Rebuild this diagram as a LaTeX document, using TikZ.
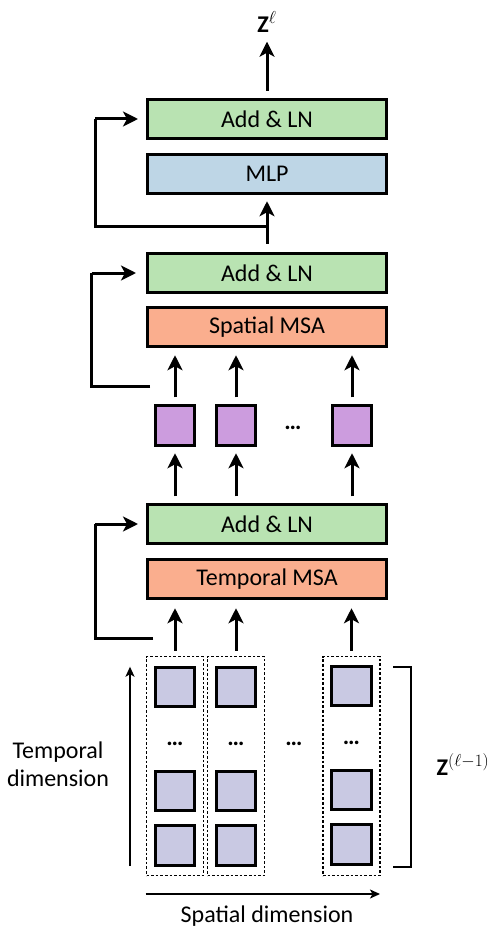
\documentclass[tikz,border=0pt]{standalone}
\usepackage{fontspec}
\setmainfont{Carlito}
\usepackage{tikz}
\usetikzlibrary{arrows,arrows.meta}
\definecolor{addgreen}{RGB}{185,227,178}
\definecolor{mlpblue}{RGB}{190,214,230}
\definecolor{msared}{RGB}{250,174,142}
\definecolor{tokpurple}{RGB}{204,156,222}
\definecolor{toklav}{RGB}{201,201,227}
\tikzstyle{blk} = [draw, line width=3pt, minimum width=239pt, minimum height=39.5pt, inner sep=0pt, font=\fontsize{24}{28}\selectfont]
\tikzstyle{tok} = [draw, line width=3pt, minimum size=39.5pt, inner sep=0pt]
\tikzstyle{col} = [draw, line width=1.4pt, dash pattern=on 2.6pt off 2pt, minimum width=57pt, minimum height=219pt, inner sep=0pt]
\tikzstyle{lbl} = [font=\fontsize{24}{28}\selectfont, inner sep=0pt]
\tikzstyle{es} = [-{Stealth[length=15pt,width=15pt,inset=4pt]}, line width=3pt]
\tikzstyle{ts} = [-{Stealth[length=10pt,width=9pt,inset=2.5pt]}, line width=1.6pt]

\begin{document}
\begin{tikzpicture}[yscale=-1]
	\useasboundingbox (0pt,0pt) rectangle (498pt,933pt);
	\node[blk, fill=addgreen] (addtop) at (267pt,119pt) {Add \& LN};
	\node[blk, fill=mlpblue] (mlp) at (267pt,174pt) {MLP};
	\node[blk, fill=addgreen] (addsp) at (267pt,273pt) {Add \& LN};
	\node[blk, fill=msared] (spmsa) at (267pt,327pt) {Spatial MSA};
	\node[blk, fill=addgreen] (addtm) at (267pt,524pt) {Add \& LN};
	\node[blk, fill=msared] (tmmsa) at (267pt,579pt) {Temporal MSA};
	\node[lbl] (zout) at (267pt,22pt) {\textbf{Z}$^{\ell}$};
	\node[tok, fill=tokpurple] (mid1) at (175pt,425.5pt) {};
	\node[tok, fill=tokpurple] (mid2) at (236pt,425.5pt) {};
	\node[tok, fill=tokpurple] (mid3) at (352pt,425.5pt) {};
	\node[lbl] (middots) at (293pt,428pt) {\textbf{…}};
	\node[col] (col1) at (175pt,766pt) {};
	\node[col] (col2) at (236pt,766pt) {};
	\node[col] (col3) at (351.5pt,766pt) {};
	\node[tok, fill=toklav] (in11) at (175pt,687pt) {};
	\node[tok, fill=toklav] (in12) at (175pt,791pt) {};
	\node[tok, fill=toklav] (in13) at (175pt,845.5pt) {};
	\node[tok, fill=toklav] (in21) at (236pt,687pt) {};
	\node[tok, fill=toklav] (in22) at (236pt,791pt) {};
	\node[tok, fill=toklav] (in23) at (236pt,845.5pt) {};
	\node[tok, fill=toklav] (in31) at (351.5pt,686pt) {};
	\node[tok, fill=toklav] (in32) at (351.5pt,790pt) {};
	\node[tok, fill=toklav] (in33) at (351.5pt,844.5pt) {};
	\node[lbl] (dots1) at (175pt,744pt) {\textbf{…}};
	\node[lbl] (dots2) at (236pt,744pt) {\textbf{…}};
	\node[lbl] (dots3) at (294pt,744pt) {\textbf{…}};
	\node[lbl] (dots4) at (351.5pt,743pt) {\textbf{…}};
	\node[lbl, align=center] (tmlabel) at (58pt,764pt) {Temporal\\dimension};
	\node[lbl] (splabel) at (267pt,916pt) {Spatial dimension};
	\node[lbl] (zin) at (463pt,765pt) {\textbf{Z}$^{(\ell-1)}$};
	\coordinate (tmfoot) at (130pt,866pt);
	\coordinate (tmhead) at (130pt,666.7pt);
	\coordinate (spfoot) at (145.7pt,894pt);
	\coordinate (sphead) at (380pt,894pt);
	\coordinate (skipa) at (267pt,226.7pt);
	\coordinate (lanea) at (95pt,119pt);
	\coordinate (skipb) at (150pt,386.7pt);
	\coordinate (laneb) at (91.7pt,273pt);
	\coordinate (skipc) at (153pt,638pt);
	\coordinate (lanec) at (95pt,524pt);
	\draw[es, shorten <=7pt, shorten >=9pt] (addtop.north) -- (zout.south);
	\draw[es, shorten <=8pt, shorten >=6pt] (addsp.north) -- (mlp.south);
	\draw[line width=3pt] (skipa) -| (lanea);
	\draw[es, shorten >=8pt] (lanea) -- (addtop.west);
	\draw[es, shorten <=7pt, shorten >=7pt] (mid1.north) -- (mid1.north |- spmsa.south);
	\draw[es, shorten <=7pt, shorten >=7pt] (mid2.north) -- (mid2.north |- spmsa.south);
	\draw[es, shorten <=7pt, shorten >=7pt] (mid3.north) -- (mid3.north |- spmsa.south);
	\draw[line width=3pt] (skipb) -| (laneb);
	\draw[es, shorten >=10pt] (laneb) -- (addsp.west);
	\draw[es, shorten <=6.5pt, shorten >=6.5pt] (mid1.north |- addtm.north) -- (mid1.south);
	\draw[es, shorten <=6.5pt, shorten >=6.5pt] (mid2.north |- addtm.north) -- (mid2.south);
	\draw[es, shorten <=6.5pt, shorten >=6.5pt] (mid3.north |- addtm.north) -- (mid3.south);
	\draw[line width=3pt] (skipc) -| (lanec);
	\draw[es, shorten >=8pt] (lanec) -- (addtm.west);
	\draw[es, shorten <=5pt, shorten >=8pt] (col1.north) -- (col1.north |- tmmsa.south);
	\draw[es, shorten <=5pt, shorten >=8pt] (col2.north) -- (col2.north |- tmmsa.south);
	\draw[es, shorten <=5pt, shorten >=8pt] (col3.north) -- (col3.north |- tmmsa.south);
	\draw[ts] (tmfoot) -- (tmhead);
	\draw[ts] (spfoot) -- (sphead);
	\draw[line width=1.6pt] (393pt,666.7pt) -- (410.7pt,666.7pt) -- (410.7pt,866.7pt) -- (393pt,866.7pt);
\end{tikzpicture}
\end{document}
